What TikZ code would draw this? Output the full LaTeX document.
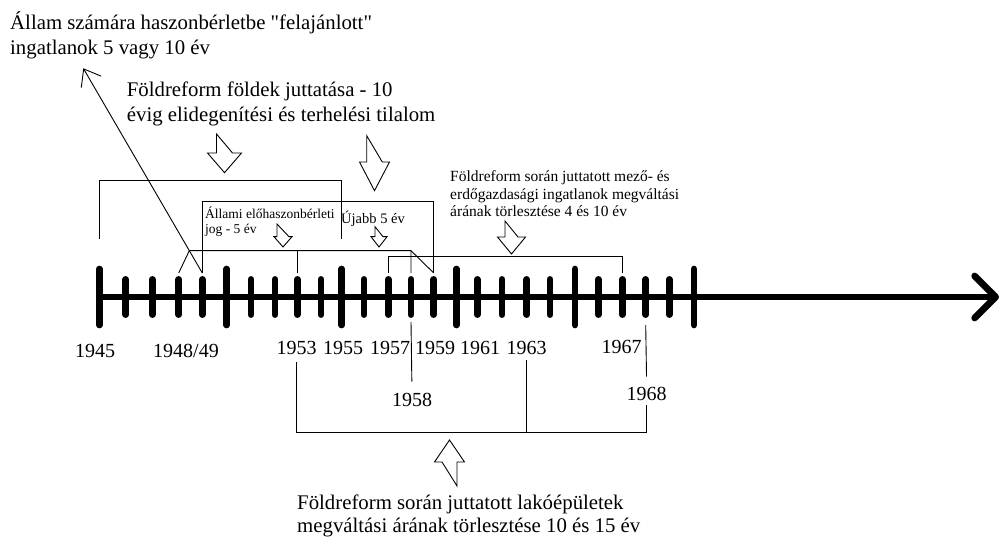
\documentclass[tikz,border=0pt]{standalone}
\usepackage{fontspec}
\setmainfont{Liberation Serif}
\usetikzlibrary{arrows.meta}
\newcommand\straightquote{\XeTeXglyph\XeTeXglyphindex "quotedbl"\relax}
\tikzset{
  time axis/.style={line width=6.7pt,line cap=round,
    -{Straight Barb[length=21pt,width=42pt,round]}},
  year tick/.style={line width=6.7pt,line cap=round},
  span/.style={line width=0.9pt},
  pics/hollow arrow/.style n args={4}{code={
    \draw[span] (-#1,0) -- (-#1,#3) -- (-#2,#3) -- (0,#3+#4) -- (#2,#3) -- (#1,#3) -- cycle;
  }},
  year/.style={font=\fontsize{20}{24}\selectfont,inner sep=0pt,anchor=base},
  note/.style={align=left,anchor=base west,inner sep=0pt},
}

\begin{document}
\begin{tikzpicture}[x=1pt,y=-1pt]
\useasboundingbox (0,0) rectangle (1003,537);

% the years on the axis
\foreach \x [count=\n from 0] in {99.3,125.7,152.3,178.7,202.3,226.7,251,275,297.3,321,
    341.7,364,388.3,411,433.7,456.3,477.3,502,526.7,550,575,598.3,622.3,645.7,669.3,694} {
  \pgfmathtruncatemacro\yr{1945+\n}
  \coordinate (y\yr) at (\x,297);
}
\coordinate (axisend) at (999,297);
\draw[time axis] (y1945) -- (axisend);
\foreach \yr in {1945,...,1970} {
  \pgfmathsetlengthmacro\len{mod(\yr,5)==0 ? 28 : 17.6}
  \draw[year tick] ([yshift=\len]y\yr) -- ([yshift=-\len]y\yr);
}

\node[year] (l1945) at (95,357) {1945};
\node[year] (l1948) at (186,357) {1948/49};
\node[year] (l1953) at (296.7,354) {1953};
\node[year] (l1955) at (343,354) {1955};
\node[year] (l1957) at (390,354) {1957};
\node[year] (l1959) at (435,354) {1959};
\node[year] (l1961) at (480,354) {1961};
\node[year] (l1963) at (526.7,354) {1963};
\node[year] (l1967) at (621.7,353) {1967};
\node[year] (l1958) at (412,406) {1958};
\node[year] (l1968) at (646.7,400.7) {1968};

% texts (base = last line)
\node[note,font=\fontsize{20.8}{25}\selectfont] (haszon) at (10,54.3)
  {Állam számára haszonbérletbe \straightquote felajánlott\straightquote\\ingatlanok 5 vagy 10 év};
\node[note,font=\fontsize{20.8}{25}\selectfont] (foldek) at (126.7,121.7)
  {Földreform földek juttatása - 10\\évig elidegenítési és terhelési tilalom};
\node[note,font=\fontsize{15.5}{17.5}\selectfont] (mezo) at (450,216.7)
  {Földreform során juttatott mező- és\\erdőgazdasági ingatlanok megváltási\\árának törlesztése 4 és 10 év};
\node[note,font=\fontsize{13.5}{16}\selectfont] (elohaszon) at (205,234)
  {Állami előhaszonbérleti\\jog - 5 év};
\node[note,font=\fontsize{14.5}{17}\selectfont] (ujabb5) at (341,223.3) {Újabb 5 év};
\node[note,font=\fontsize{20.8}{23}\selectfont] (lako) at (297,532.4)
  {Földreform során juttatott lakóépületek\\megváltási árának törlesztése 10 és 15 év};

% spans above the axis
\draw[span] ([yshift=58pt]y1945) |- ([yshift=117pt]y1955) -- ([yshift=58pt]y1955);
\draw[span] ([yshift=24pt]y1949) |- ([yshift=96pt]y1959) -- ([yshift=24pt]y1959);
\coordinate (elo) at (189.3,250.7);
\coordinate (uj) at ([yshift=46.3pt]y1958);
\draw[span] ([yshift=24pt]y1948) -- (elo) -- (uj) -- ([yshift=24pt]y1958);
\draw[span] (uj) -- ([yshift=24pt]y1959);
\draw[span] (elo -| y1953) -- ([yshift=24pt]y1953);
\draw[span] ([yshift=24pt]y1957) |- ([yshift=40.3pt]y1967) -- ([yshift=24pt]y1967);
\coordinate (felaj) at (83.3,68.3);
\draw[span,-{Straight Barb[length=15pt,width=23pt]}] ([yshift=24pt]y1949) -- (felaj);

% spans below the axis
\draw[span,shorten >=10.8pt] ([yshift=-25pt]y1958) -- (l1958.north);
\draw[span,shorten >=10.5pt] ([yshift=-28pt]y1968) -- (l1968.north);
\coordinate (lakobase) at (449.5,432);
\draw[span] ([yshift=-8pt]l1953.south) -- (l1953.south |- lakobase) -| ([yshift=-4pt]l1968.south);
\draw[span] ([yshift=-6pt]l1963.south) -- (l1963.south |- lakobase);

% hollow arrows
\pic at (224.5,134) {hollow arrow={8}{17}{19}{19.7}};
\pic at (374.5,135.7) {hollow arrow={7.8}{15}{26.3}{28.7}};
\pic at (283,224) {hollow arrow={6}{9}{12.7}{10.3}};
\pic at (379,226.7) {hollow arrow={4}{8}{10}{10.3}};
\pic at (511.5,221) {hollow arrow={6.5}{14}{16}{17}};
\pic[rotate=180] at (449.5,486) {hollow arrow={7.5}{15}{24}{22}};
\end{tikzpicture}
\end{document}
